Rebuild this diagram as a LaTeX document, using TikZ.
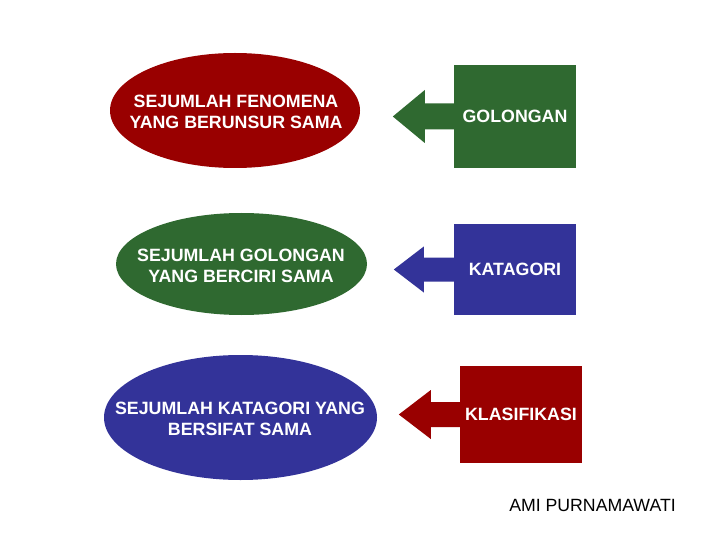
\documentclass[tikz,border=0pt]{standalone}
\usepackage{fontspec}
\setmainfont{Liberation Sans}
\usetikzlibrary{shapes.geometric,calc}
\definecolor{cred}{HTML}{990000}
\definecolor{cgreen}{HTML}{2F6930}
\definecolor{cblue}{HTML}{333399}
\newcommand\callarrow[6]{%
  \fill[#2] (#1.west) ++(0,-#3) -- ++(-#5,0) -- ++(0,-#4+#3) -- ++(-#6,#4) -- ++(#6,#4) -- ++(0,-#4+#3) -- ++(#5,0) -- cycle;}
\begin{document}
\begin{tikzpicture}[x=1pt,y=-1pt,
  txt/.style={font=\bfseries\fontsize{17.8}{21}\selectfont, text=white, align=center, inner sep=0pt},
  oval/.style={ellipse, inner sep=0pt},
  boxnode/.style={rectangle, txt, minimum width=122pt}]
\useasboundingbox[fill=white] (0,0) rectangle (720,540);
% row 1
\node[oval, fill=cred, minimum width=250pt, minimum height=115pt] (e1) at (235,110.5) {};
\node[txt] (t1) at (236,112) {SEJUMLAH FENOMENA\\YANG BERUNSUR SAMA};
\node[boxnode, fill=cgreen, minimum height=103pt] (b1) at (515,116.5) {GOLONGAN};
\callarrow{b1}{cgreen}{13}{26.5}{29}{32}
% row 2
\node[oval, fill=cgreen, minimum width=251pt, minimum height=102pt] (e2) at (241.5,264) {};
\node[txt] (t2) at (241,265.5) {SEJUMLAH GOLONGAN\\YANG BERCIRI SAMA};
\node[boxnode, fill=cblue, minimum height=91pt] (b2) at (515,269.5) {KATAGORI};
\callarrow{b2}{cblue}{12}{23}{30}{30}
% row 3
\node[oval, fill=cblue, minimum width=273pt, minimum height=125pt] (e3) at (240.5,417.5) {};
\node[txt] (t3) at (240,418.5) {SEJUMLAH KATAGORI YANG\\BERSIFAT SAMA};
\node[boxnode, fill=cred, minimum height=97pt] (b3) at (521,414.5) {KLASIFIKASI};
\callarrow{b3}{cred}{12.5}{24.5}{29}{32}
% author
\node[font=\fontsize{17.7}{21}\selectfont, inner sep=0pt] (auth) at (592.5,505) {AMI PURNAMAWATI};
\end{tikzpicture}
\end{document}
